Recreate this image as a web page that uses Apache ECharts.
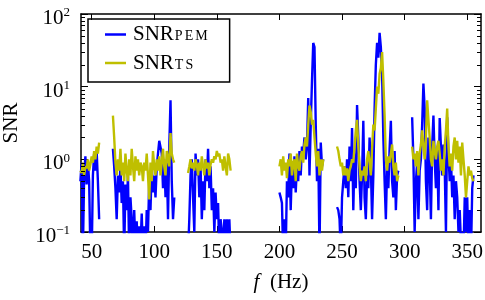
<!DOCTYPE html>
<html><head><meta charset="utf-8">
<script src="https://cdn.jsdelivr.net/npm/echarts@6/dist/echarts.min.js"></script>
<style>html,body{margin:0;padding:0;background:#fff}#c{width:485px;height:300px}</style>
</head><body><div id="c"></div>
<script>
// segment start frequencies (Hz), 1 Hz spacing inside each segment
const segStarts = [41, 67, 127, 200, 246, 306];
// SNR_PEM (blue)
const pemA = [0.5,0.9,0.05,0.6,1.1,0.45,0.9,0.5,0.05,0.04,0.6,1.2,0.7,1.3,0.5,0.15];
const pemB = [1.4,0.8,0.4,0.15,0.6,0.35,0.8,0.25,0.5,0.05,0.45,0.2,0.6,0.05,0.3,0.15,0.05,0.2,0.06,0.14,0.05,0.12,0.06,0.18,0.05,0.12,0.05,0.2,0.1,0.5,0.2,0.8,0.35,0.6,0.3,0.8,1.2,1.8,1.7,1.2,0.4,1.0,0.3,0.9,0.15,1.5,6.5,0.5,0.15,0.3];
const pemC = [0.05,0.15,0.6,1.0,0.3,0.1,1.2,0.6,1.0,0.3,0.8,0.15,0.5,0.2,1.0,0.5,1.4,0.4,0.8,0.2,0.4,0.1,0.35,0.15,0.25,0.05,0.15,0.1,0.07,0.15,0.05,0.15,0.05,0.15,0.05];
const pemD = [0.35,0.3,0.25,0.05,0.15,0.05,0.5,0.3,1.2,0.2,0.8,0.4,1.1,0.35,0.8,0.5,1.3,0.6,1.5,1.2,2.0,1.0,1.5,7.0,0.6,3.0,12,40,35,3.0,0.5,1.4,0.05,1.7,0.8,1.0];
const pemE = [0.22,0.2,0.15,0.05,0.3,0.5,0.8,0.4,1.0,0.3,1.5,0.5,2.7,0.2,1.2,0.4,5.6,2.0,0.5,0.2,0.6,3.4,0.3,0.15,0.6,0.4,2.0,0.8,0.15,0.6,5.0,20,40,25,55,35,15,2.0,0.5,0.15,0.8,0.4,1.4,3.4,0.5,0.3,1.3,0.2,0.6,0.7];
const pemF = [3.8,1.0,0.1,0.5,0.9,0.15,0.7,1.0,3.0,11,5.0,0.5,0.2,2.0,0.8,0.15,1.5,4.0,1.0,0.4,1.4,0.2,3.7,1.5,0.6,1.6,0.8,0.1,3.8,1.2,0.5,1.0,0.3,0.6,0.15,0.5,0.3,0.1,0.2,0.07,0.1,0.05,0.3,0.1,0.3,0.05,0.2,0.05,0.4,0.6];
// SNR_TS (yellow)
const tsA = [0.7,0.65,0.9,0.6,0.8,0.75,1.0,0.7,0.85,1.1,0.9,1.3,1.0,1.5,1.2,1.7];
const tsB = [4.0,2.0,0.9,0.6,1.0,0.7,1.4,0.6,0.9,0.5,1.2,0.7,0.5,1.0,0.6,1.4,0.8,0.5,1.1,0.7,1.0,0.6,0.9,0.8,0.5,0.9,0.7,1.2,0.6,0.28,0.9,0.5,1.3,0.8,0.6,1.0,0.7,1.1,0.6,0.9,1.4,0.8,0.6,1.3,1.0,0.8,2.3,1.2,1.0,0.9];
const tsC = [0.65,0.8,1.0,0.75,0.9,0.7,1.0,0.85,0.6,0.9,0.7,1.1,0.8,0.6,1.0,0.75,0.9,0.6,0.85,1.0,0.9,1.1,1.0,1.3,1.1,1.2,0.9,1.0,0.7,1.1,0.8,0.6,1.2,1.0,0.7];
const tsD = [0.8,1.0,0.6,1.1,0.7,0.9,0.55,1.0,0.8,1.2,0.6,0.9,1.0,0.5,1.2,0.8,0.7,1.1,1.3,0.9,1.6,2.0,1.5,3.0,5.5,4.5,3.0,3.5,2.0,1.2,0.8,1.3,0.6,1.0,0.7,1.0];
const tsE = [1.5,1.3,1.0,0.8,0.9,0.6,0.8,0.6,0.75,0.5,0.7,0.8,1.0,0.9,1.5,2.5,3.5,1.5,0.8,0.5,0.7,0.6,0.8,0.5,1.0,1.3,0.9,0.6,1.4,3.0,2.5,5.0,10,8,15,18,30,12,4,1.0,0.7,1.1,0.9,1.2,1.6,0.8,0.6,0.9,0.5,0.6];
const tsF = [1.5,1.0,1.2,0.8,1.3,0.6,1.2,1.6,2.5,1.5,1.0,2.0,6.5,3.5,2.0,1.0,0.8,1.8,1.3,1.0,1.5,1.8,1.2,0.7,1.0,0.6,1.5,2.5,5.0,1.5,0.8,1.2,0.7,1.5,2.0,1.0,1.8,0.9,1.5,0.6,1.7,1.0,0.6,0.3,0.5,0.8,0.6,0.7,0.55,0.5];

const xTicks = [50,100,150,200,250,300,350];
const yTicks = [0.1,1,10,100];
const xMin = 41.5, xMax = 361;
const yMin = 0.1, yMax = 100;

function build(segs){
  const out = [];
  segs.forEach((seg, s) => {
    seg.forEach((v, i) => out.push([segStarts[s] + i, v]));
    out.push([segStarts[s] + seg.length - 0.5, '-']);
  });
  return out;
}
const pemData = build([pemA,pemB,pemC,pemD,pemE,pemF]);
const tsData = build([tsA,tsB,tsC,tsD,tsE,tsF]);

const FONT = 'Liberation Serif';
function ylab(v){
  const e = Math.round(Math.log10(v));
  const es = String(e).replace('-', '\u2212');
  return '{b|10}{e|' + es + '}';
}
function sc(txt){ return txt.split('').map(c => '{s|' + c + '}').join(''); }
const chart = echarts.init(document.getElementById('c'), null, {renderer:'canvas'});
const axisLine = {lineStyle:{color:'#000', width:1.5}};
const tickStyle = {color:'#000', width:1};
const option = {
  animation:false,
  grid:{left:81, top:14, width:400, height:218, containLabel:false, outerBoundsMode:'none'},
  legend:{
    left:88, top:19, orient:'vertical',
    borderColor:'#000', borderWidth:1.5, borderRadius:0,
    padding:[5,21,7,17], itemWidth:21, itemHeight:2.5, itemGap:6, icon:'rect',
    formatter:function(name){ return '{a|SNR}' + sc(name); },
    textStyle:{
      rich:{
        a:{fontFamily:FONT, fontSize:21, color:'#000', padding:[0,0,0,2], lineHeight:24},
        s:{fontFamily:FONT, fontSize:14, color:'#000', verticalAlign:'bottom', lineHeight:14, padding:[0,1,3,1]}
      }
    },
    data:['PEM','TS']
  },
  xAxis:[{
    type:'value', min:xMin, max:xMax, position:'bottom',
    axisLine:axisLine,
    axisTick:{inside:true, length:6, customValues:xTicks, lineStyle:tickStyle},
    axisLabel:{customValues:xTicks, fontFamily:FONT, fontSize:21, color:'#000', margin:10},
    splitLine:{show:false},
    name:'{i|f}  (Hz)', nameLocation:'middle', nameGap:40,
    nameTextStyle:{fontFamily:FONT, fontSize:21, color:'#000', rich:{i:{fontFamily:FONT, fontStyle:'italic', fontSize:21, color:'#000'}}}
  },{
    type:'value', min:xMin, max:xMax, position:'top',
    axisLine:axisLine,
    axisTick:{inside:true, length:6, customValues:xTicks, lineStyle:tickStyle},
    axisLabel:{show:false, customValues:xTicks},
    splitLine:{show:false}
  }],
  yAxis:[{
    type:'log', logBase:10, min:yMin, max:yMax, position:'left',
    axisLine:axisLine,
    axisTick:{inside:true, length:7, lineStyle:tickStyle},
    axisLabel:{formatter:ylab, margin:11, padding:[9,0,0,0], rich:{
      b:{fontFamily:FONT, fontSize:21, color:'#000', lineHeight:24},
      e:{fontFamily:FONT, fontSize:13, color:'#000', verticalAlign:'top', lineHeight:13}
    }},
    splitLine:{show:false},
    name:'SNR', nameLocation:'middle', nameGap:59, nameRotate:90,
    nameTextStyle:{fontFamily:FONT, fontSize:21, color:'#000'}
  },{
    type:'log', logBase:10, min:yMin, max:yMax, position:'right',
    axisLine:axisLine,
    axisTick:{inside:true, length:7, lineStyle:tickStyle},
    axisLabel:{show:false},
    splitLine:{show:false}
  }],
  series:[
    {name:'PEM', type:'line', data:pemData, showSymbol:false, symbol:'none', connectNulls:false, clip:true,
     lineStyle:{color:'#0000ff', width:2.4}, itemStyle:{color:'#0000ff'}},
    {name:'TS', type:'line', data:tsData, showSymbol:false, symbol:'none', connectNulls:false, clip:true,
     lineStyle:{color:'#bfbf00', width:2.4}, itemStyle:{color:'#bfbf00'}}
  ]
};
chart.setOption(option);

// minor log ticks (2..9 x 10^k) on left and right, positioned through the axis scale
const minor = [];
const xl = chart.convertToPixel({xAxisIndex:0}, xMin);
const xr = chart.convertToPixel({xAxisIndex:0}, xMax);
for (let k = -1; k < 2; k++) {
  for (let m = 2; m < 10; m++) {
    const y = Math.round(chart.convertToPixel({yAxisIndex:0}, m * Math.pow(10, k))) + 0.5;
    minor.push({type:'line', shape:{x1:xl, y1:y, x2:xl+4, y2:y}, style:{stroke:'#000', lineWidth:1}, z:10});
    minor.push({type:'line', shape:{x1:xr-4, y1:y, x2:xr, y2:y}, style:{stroke:'#000', lineWidth:1}, z:10});
  }
}
chart.setOption({graphic:minor});
</script></body></html>
